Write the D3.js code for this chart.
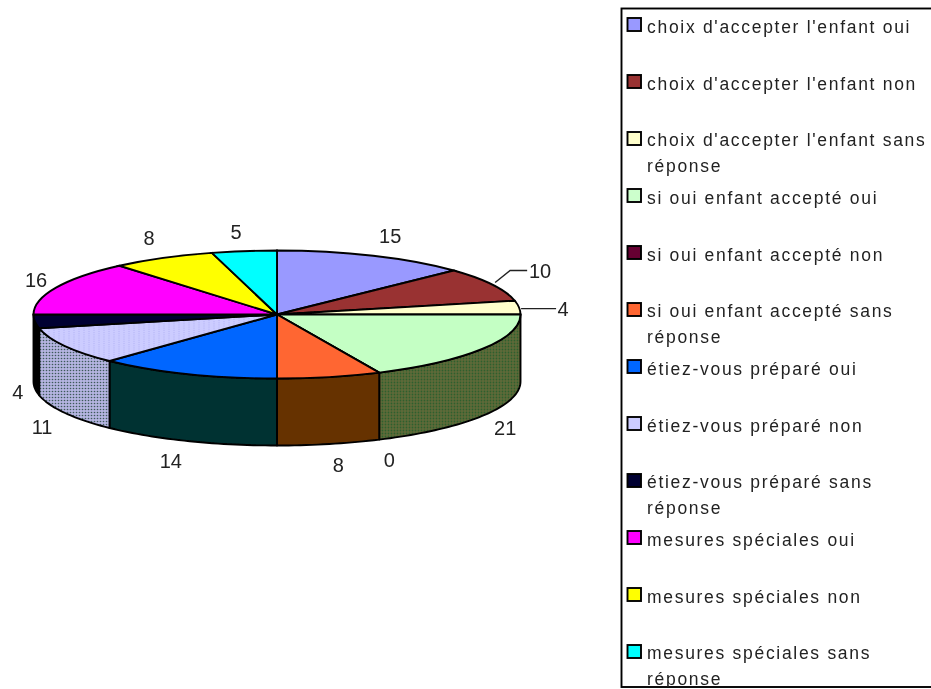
<!DOCTYPE html>
<html><head><meta charset="utf-8">
<script src="https://cdn.jsdelivr.net/npm/d3@7/dist/d3.min.js"></script>
<style>html,body{margin:0;padding:0;background:#fff;overflow:hidden}svg{display:block}</style>
</head><body><svg id="c" width="931" height="689"></svg>
<script>
const categories = ["choix d'accepter l'enfant oui","choix d'accepter l'enfant non","choix d'accepter l'enfant sans réponse","si oui enfant accepté oui","si oui enfant accepté non","si oui enfant accepté sans réponse","étiez-vous préparé oui","étiez-vous préparé non","étiez-vous préparé sans réponse","mesures spéciales oui","mesures spéciales non","mesures spéciales sans réponse"];
const values = [15,10,4,21,0,8,14,11,4,16,8,5];
const topColors = ["#9999ff","#993333","#ffffcc","#c4ffc4","#660033","#ff6633","#0066ff","url(#dotsTop)","#000033","#ff00ff","#ffff00","#00ffff"];
const swatchColors = ["#9999ff","#993333","#ffffcc","#ccffcc","#660033","#ff6633","#0066ff","#ccccff","#000033","#ff00ff","#ffff00","#00ffff"];
const sideColors = ["#4d4d80","#4d1a1a","#80805e","url(#dotsOlive)","#330019","#663300","#003333","url(#dotsSide)","#000000","#800080","#808000","#008080"];
// label offsets from the rim point at each slice's middle angle
const labelOffsets = [[17,-20],[48,-14],[44,1],[23,12],[10,20],[9,21],[-16,20],[-23,14],[-17,4],[-20,-8],[-14,-20],[-8,-19]];

const cx=277, cy=314.5, rx=243.5, ry=64, depth=67;
const svg=d3.select("#c");
const defs=svg.append("defs");
defs.append("filter").attr("id","soft").append("feGaussianBlur").attr("stdDeviation",0.5);
function dots(id,bg,fg,size,r){
  const p=defs.append("pattern").attr("id",id).attr("width",size).attr("height",size).attr("patternUnits","userSpaceOnUse");
  p.append("rect").attr("width",size).attr("height",size).attr("fill",bg);
  p.append("circle").attr("cx",size/2).attr("cy",size/2).attr("r",r).attr("fill",fg);
}
dots("dotsOlive","#606a38","#2f5f2f",3,0.9);
dots("dotsSide","#b4b4e0","#3c5a5a",3,0.8);
const pt=defs.append("pattern").attr("id","dotsTop").attr("width",10).attr("height",7).attr("patternUnits","userSpaceOnUse");
pt.append("rect").attr("width",10).attr("height",7).attr("fill","#ccccff");
pt.append("circle").attr("cx",2).attr("cy",2).attr("r",.8).attr("fill","#a0a0ee");
pt.append("circle").attr("cx",7).attr("cy",5.5).attr("r",.8).attr("fill","#a0a0ee");

const arcs=d3.pie().sort(null).value(d=>d)(values);
const px=a=>cx+rx*Math.sin(a), py=a=>cy-ry*Math.cos(a);
const chart=svg.append("g").attr("filter","url(#soft)");

// walls: only the front half of the rim shows
const line=d3.line();
const walls=chart.append("g");
arcs.forEach((d,i)=>{
  const a0=Math.max(d.startAngle,Math.PI/2), a1=Math.min(d.endAngle,Math.PI*1.5);
  if(a1<=a0) return;
  const n=Math.max(2,Math.ceil((a1-a0)*40));
  const s=d3.range(n+1).map(k=>a0+(a1-a0)*k/n);
  const pts=s.map(a=>[px(a),py(a)]).concat(s.slice().reverse().map(a=>[px(a),py(a)+depth]));
  walls.append("path").attr("d",line(pts)+"Z").attr("fill",sideColors[i]).attr("stroke","#000").attr("stroke-width",1.9).attr("stroke-linejoin","round");
});

// top
const arc=d3.arc().innerRadius(0).outerRadius(rx);
chart.append("g").attr("transform",`translate(${cx},${cy}) scale(1,${ry/rx})`)
 .selectAll("path").data(arcs).join("path").attr("d",arc)
 .attr("fill",(d,i)=>topColors[i]).attr("stroke","#000").attr("stroke-width",1.9)
 .attr("vector-effect","non-scaling-stroke").style("vector-effect","non-scaling-stroke");

// leader lines and value labels
const labels=svg.append("g").attr("filter","url(#soft)").attr("font-family","Liberation Sans, Arial, sans-serif").attr("font-size",20).attr("fill","#222");
arcs.forEach((d,i)=>{
  const m=(d.startAngle+d.endAngle)/2, x=px(m), y=py(m)+(Math.cos(m)<0?depth:0);
  const [dx,dy]=labelOffsets[i];
  labels.append("text").attr("x",x+dx).attr("y",y+dy).attr("text-anchor","middle").attr("dominant-baseline","central").text(values[i]);
  if(i===1) labels.append("path").attr("d",line([[x+3,y-2],[x+18,y+dy],[x+dx-13,y+dy]])).attr("fill","none").attr("stroke","#222").attr("stroke-width",1.4);
  if(i===2) labels.append("path").attr("d",line([[x+2,y+dy],[x+dx-7,y+dy]])).attr("fill","none").attr("stroke","#222").attr("stroke-width",1.4);
});

// legend
const legendY=d3.scalePoint().domain(categories).range([25,652]);
defs.append("clipPath").attr("id","legendClip").append("rect").attr("x",621).attr("y",8).attr("width",310).attr("height",679);
const lg=svg.append("g").attr("filter","url(#soft)");
lg.append("rect").attr("x",621.5).attr("y",8.5).attr("width",320).attr("height",678.5).attr("fill","#fff").attr("stroke","#000").attr("stroke-width",1.9);
const items=lg.append("g").attr("clip-path","url(#legendClip)").attr("font-family","Liberation Sans, Arial, sans-serif").attr("font-size",17.5).attr("letter-spacing",1.7).attr("fill","#222");
categories.forEach((c,i)=>{
  const y=legendY(c);
  items.append("rect").attr("x",627.5).attr("y",y-7).attr("width",13.5).attr("height",13).attr("fill",swatchColors[i]).attr("stroke","#000").attr("stroke-width",1.9);
  const cut=c.endsWith(" réponse")?c.lastIndexOf(" "):c.length;
  const yt=y+(cut<c.length?1:2);
  items.append("text").attr("x",647).attr("y",yt).attr("dominant-baseline","central").text(c.slice(0,cut));
  if(cut<c.length) items.append("text").attr("x",647).attr("y",yt+26).attr("dominant-baseline","central").text(c.slice(cut+1));
});
</script></body></html>
